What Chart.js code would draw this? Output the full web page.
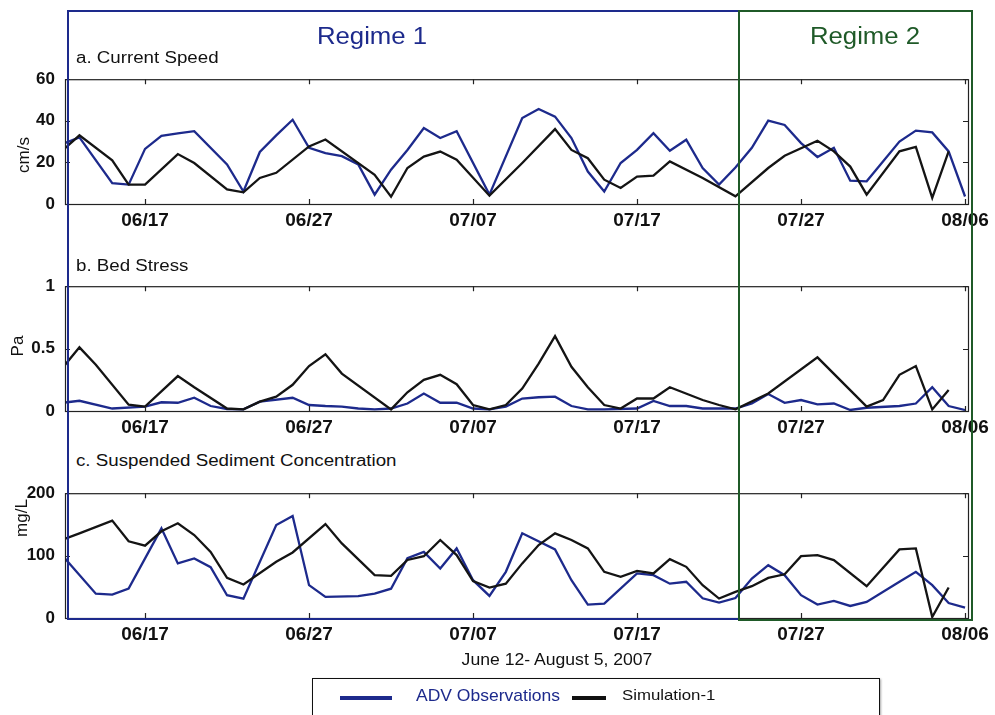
<!DOCTYPE html>
<html>
<head>
<meta charset="utf-8">
<script src="https://cdn.jsdelivr.net/npm/chart.js@4/dist/chart.umd.min.js"></script>
<style>
  html, body { margin: 0; padding: 0; background: #fff; }
  #wrap { position: relative; width: 995px; height: 715px; overflow: hidden; background: #fff;
          font-family: "Liberation Sans", Arial, sans-serif; }
  canvas.panel { position: absolute; left: 0; }
  .txt { position: absolute; white-space: nowrap; color: #111; transform-origin: left center; }
  .ctr { transform-origin: center center; }
  .box { position: absolute; box-sizing: border-box; pointer-events: none; }
  .ylab { position: absolute; white-space: nowrap; color: #111; font-size: 17px;
          transform: translate(-50%, -50%) rotate(-90deg); }
</style>
</head>
<body>
<div id="wrap">
  <canvas id="panelA" class="panel" width="995" height="180" style="top:59px"></canvas>
  <canvas id="panelB" class="panel" width="995" height="180" style="top:266px"></canvas>
  <canvas id="panelC" class="panel" width="995" height="180" style="top:473px"></canvas>

  <div class="txt" style="left:76px; top:49px; font-size:16px; transform:scaleX(1.17)">a. Current Speed</div>
  <div class="txt" style="left:76px; top:257px; font-size:16px; transform:scaleX(1.17)">b. Bed Stress</div>
  <div class="txt" style="left:76px; top:452px; font-size:16px; transform:scaleX(1.17)">c. Suspended Sediment Concentration</div>

  <div class="ylab" style="left:24px; top:155px">cm/s</div>
  <div class="ylab" style="left:18px; top:346px">Pa</div>
  <div class="ylab" style="left:22px; top:518px">mg/L</div>

  <div class="txt ctr" style="left:557px; top:660px; font-size:16px; transform:translate(-50%,-50%) scaleX(1.1)">June 12- August 5, 2007</div>

  <div class="box" style="left:67px; top:10px; width:673px; height:610px; border:2px solid #1d2a8c;"></div>
  <div class="box" style="left:738px; top:10px; width:235px; height:611px; border:2px solid #1f5a28;"></div>
  <div class="txt ctr" style="left:372px; top:36px; font-size:23px; color:#1d2a8c; transform:translate(-50%,-50%) scaleX(1.12)">Regime 1</div>
  <div class="txt ctr" style="left:865px; top:36px; font-size:23px; color:#1f5a28; transform:translate(-50%,-50%) scaleX(1.12)">Regime 2</div>

  <div class="box" style="left:312px; top:678px; width:568px; height:50px; border:1.5px solid #111; box-shadow:1px 1px 2px rgba(0,0,0,0.35);"></div>
  <div class="box" style="left:340px; top:696px; width:52px; height:4px; background:#1d2a8c;"></div>
  <div class="txt" style="left:416px; top:686px; font-size:17px; color:#1d2a8c; transform:scaleX(1.03)">ADV Observations</div>
  <div class="box" style="left:572px; top:696px; width:34px; height:4px; background:#111;"></div>
  <div class="txt" style="left:622px; top:686px; font-size:15px; transform:scaleX(1.12)">Simulation-1</div>
</div>

<script>
// Daily samples, days counted from June 12, 2007 (day 0)
const days = [0,1,2,3,4,5,6,7,8,9,10,11,12,13,14,15,16,17,18,19,20,21,22,23,24,25,26,27,
              28,29,30,31,32,33,34,35,36,37,38,39,40,41,42,43,44,45,46,47,48,49,50,51,52,53,54,55];

// Date tick positions (day numbers) and their labels
const tickDays = [5, 15, 25, 35, 45, 55];
const tickLabels = ['06/17', '06/27', '07/07', '07/17', '07/27', '08/06'];

// a. Current speed (cm/s)
const speedObs = [29,32,null,10,9.3,26.5,32.8,34,35,null,19,6,25,33,40.5,27,24.5,23,19,4.5,
                  16.5,26,36.5,31.7,35,null,4.5,null,41.3,45.7,42,31.7,15.6,6,19.7,26,34,25.6,30.9,17.3,
                  9.3,17.5,27,40.1,38,29.3,22.6,27,11.2,10.9,null,30,35.3,34.4,25.3,3.6];
const speedSim = [26,33,null,21,9.3,9.3,null,24,19.7,null,7,5.6,12.5,15,null,27.7,31,null,null,14,
                  3.5,17.3,22.8,25.2,21.3,null,4,null,19.7,null,36,26,22,11.7,7.7,13.2,13.6,20.5,null,12.5,
                  null,3.7,null,17.3,23.2,null,30.4,25.3,18,4.5,null,25.3,27.4,2.9,25.3,null];

// b. Bed stress (Pa)
const stressObs = [0.066,0.082,null,0.02,null,0.035,0.07,0.066,0.106,0.04,0.016,0.013,0.075,null,0.106,0.048,0.04,0.035,0.02,0.013,
                   0.02,0.06,0.14,0.066,0.066,0.02,0.013,0.035,0.1,0.11,0.115,0.04,0.013,0.013,null,0.02,0.08,0.04,0.04,0.02,
                   null,0.02,0.06,0.136,0.066,0.088,0.053,0.06,0.008,0.026,null,0.04,0.06,0.19,0.04,0.008];
const stressSim = [0.35,0.51,0.37,null,0.05,0.035,null,0.28,0.19,null,0.02,0.013,0.075,0.115,0.21,0.36,0.455,0.3,null,null,
                   0.013,0.15,0.25,0.29,0.215,0.048,0.013,0.048,0.18,0.38,0.6,0.354,0.19,0.048,0.02,0.1,0.1,0.19,null,0.088,
                   0.048,0.013,null,0.14,null,null,0.43,null,null,0.035,0.088,0.29,0.36,0.013,0.168,null];

// c. Suspended sediment concentration (mg/L)
const sscObs = [99,null,39,37.6,47,null,143.7,87.5,95.5,81.5,36.5,31,null,149,163.5,52.6,33.8,null,35,39,
                47,96,106,79.4,111.5,60.6,35.4,74,135.7,null,110,60.6,21.5,23,null,71.4,68.6,55,58,31.6,
                24.7,32,63.3,84.7,68.6,36.5,21.5,27.3,19.3,25.7,null,58,74,52.6,24,16.7];
const sscSim = [126,135.7,null,156,123,116,139,151.7,133,106,64.3,53.6,null,90,105,null,150.6,119.6,null,68.6,
                67.5,93,99,125,100.8,59,48.8,55,87.5,117,135.7,125,111.5,74,66,75.6,71.4,94.4,82,52.6,
                31.2,41.8,51,64.3,70,99,100.8,92.8,null,51,null,110,111.5,1.6,48.8,null];

const OBS_COLOR = '#1d2a8c';
const SIM_COLOR = '#141414';
const FONT = '"Liberation Sans", Arial, sans-serif';

function toPoints(values) {
  return days.map((d, i) => ({ x: d, y: values[i] }));
}

// Box frame around the plotting area with inward tick marks on all four sides
const framePlugin = {
  id: 'frame',
  afterDatasetsDraw(chart) {
    const { ctx, chartArea: a, scales } = chart;
    ctx.save();
    ctx.strokeStyle = '#222';
    ctx.lineWidth = 1.2;
    ctx.strokeRect(a.left + 0.5, a.top + 0.5, a.right - a.left, a.bottom - a.top);
    const len = 5;
    ctx.beginPath();
    scales.x.ticks.forEach(t => {
      const px = Math.round(scales.x.getPixelForValue(t.value)) + 0.5;
      ctx.moveTo(px, a.top); ctx.lineTo(px, a.top + len);
      ctx.moveTo(px, a.bottom); ctx.lineTo(px, a.bottom - len);
    });
    scales.y.ticks.forEach(t => {
      const py = Math.round(scales.y.getPixelForValue(t.value)) + 0.5;
      ctx.moveTo(a.left, py); ctx.lineTo(a.left + len, py);
      ctx.moveTo(a.right, py); ctx.lineTo(a.right - len, py);
    });
    ctx.stroke();
    ctx.restore();
  }
};

function makePanel(id, obs, sim, yMax, yTickVals, yTickText) {
  return new Chart(document.getElementById(id), {
    type: 'line',
    data: {
      datasets: [
        { label: 'ADV Observations', data: toPoints(obs), borderColor: OBS_COLOR, borderWidth: 2.3,
          pointRadius: 0, tension: 0, spanGaps: true, order: 2 },
        { label: 'Simulation-1', data: toPoints(sim), borderColor: SIM_COLOR, borderWidth: 2.3,
          pointRadius: 0, tension: 0, spanGaps: true, order: 1 }
      ]
    },
    options: {
      responsive: false,
      devicePixelRatio: 1,
      animation: false,
      events: [],
      layout: { padding: { top: 1, right: 27, left: 0, bottom: 0 } },
      plugins: { legend: { display: false }, tooltip: { enabled: false } },
      scales: {
        x: {
          type: 'linear', min: 0.12, max: 55.18,
          afterBuildTicks: s => { s.ticks = tickDays.map(v => ({ value: v })); },
          afterFit: s => { s.height = 35; },
          grid: { display: false, drawTicks: false },
          border: { display: false },
          ticks: {
            autoSkip: false, maxRotation: 0, padding: 5, color: '#111',
            font: { family: FONT, size: 19, weight: 'bold' },
            callback: (v) => tickLabels[tickDays.indexOf(v)]
          }
        },
        y: {
          min: 0, max: yMax,
          afterBuildTicks: s => { s.ticks = yTickVals.map(v => ({ value: v })); },
          afterFit: s => { s.width = 65; },
          grid: { display: false, drawTicks: false },
          border: { display: false },
          ticks: {
            padding: 10, color: '#111',
            font: { family: FONT, size: 17, weight: 'bold' },
            callback: (v) => yTickText[yTickVals.indexOf(v)]
          }
        }
      }
    },
    plugins: [framePlugin]
  });
}

makePanel('panelA', speedObs, speedSim, 60, [0, 20, 40, 60], ['0', '20', '40', '60']);
makePanel('panelB', stressObs, stressSim, 1, [0, 0.5, 1], ['0', '0.5', '1']);
makePanel('panelC', sscObs, sscSim, 200, [0, 100, 200], ['0', '100', '200']);
</script>
</body>
</html>
